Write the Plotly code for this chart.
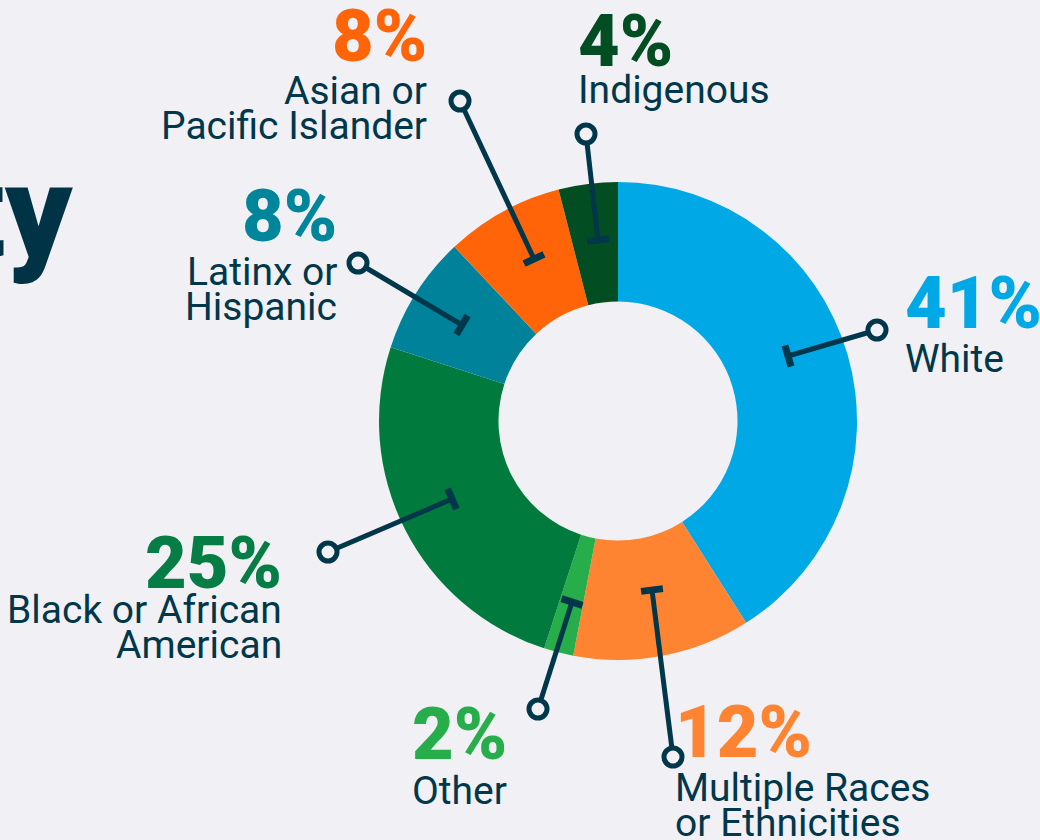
import math
import plotly.graph_objects as go

# ---- data ----
categories = ["White", "Multiple Races or Ethnicities", "Other",
              "Black or African American", "Latinx or Hispanic",
              "Asian or Pacific Islander", "Indigenous"]
values = [41, 12, 2, 25, 8, 8, 4]
pct_labels = ["41%", "12%", "2%", "25%", "8%", "8%", "4%"]
label_lines = [["White"], ["Multiple Races", "or Ethnicities"], ["Other"],
               ["Black or African", "American"], ["Latinx or", "Hispanic"],
               ["Asian or", "Pacific Islander"], ["Indigenous"]]
colors = ["#00A9E5", "#FF8432", "#27AE4A", "#007A3D", "#00839A", "#FF6508", "#034D23"]
pct_colors = ["#00A9E5", "#FF8432", "#27AE4A", "#067D45", "#00869B", "#FF6508", "#034D23"]

W, H = 1040, 840
BG = "#F1F0F5"
DARK = "#00374A"
FONT = "Roboto"


def px(x):
    return x / W


def py(y):
    return 1 - y / H


# pie geometry (pixels)
cx, cy, R = 618, 421, 239

fig = go.Figure(go.Pie(
    labels=categories, values=values, sort=False, direction="clockwise",
    rotation=0, hole=0.5, textinfo="none", hoverinfo="label+percent",
    marker=dict(colors=colors, line=dict(width=0)),
    domain=dict(x=[px(cx - R), px(cx + R)], y=[py(cy + R), py(cy - R)]),
    showlegend=False,
))

# text placement: (anchor, x, pct baseline, [label baselines])
placement = [
    ("left", 903, 328, [372]),
    ("left", 673, 757, [801, 836]),
    ("left", 410, 759, [804]),
    ("right", 284, 588, [623, 658]),
    ("right", 339, 241, [285, 320]),
    ("right", 429, 61, [104, 139]),
    ("left", 576, 66, [103]),
]
PFS, LFS = 72, 39
annotations = []
for i, (anc, x, pb, lbs) in enumerate(placement):
    annotations.append(dict(
        text=pct_labels[i], x=px(x), y=py(pb - 0.342 * PFS), xref="paper", yref="paper",
        xanchor=anc, yanchor="middle", showarrow=False,
        font=dict(family=FONT, size=PFS, color=pct_colors[i], weight=900)))
    for line, b in zip(label_lines[i], lbs):
        annotations.append(dict(
            text=line, x=px(x), y=py(b - 0.342 * LFS), xref="paper", yref="paper",
            xanchor=anc, yanchor="middle", showarrow=False,
            font=dict(family=FONT, size=LFS, color=DARK)))

# cropped title at left edge
TFS = 130
annotations.append(dict(
    text="Ethnicity", x=px(75), y=py(256 - 0.342 * TFS), xref="paper", yref="paper",
    xanchor="right", yanchor="middle", showarrow=False,
    font=dict(family=FONT, size=TFS, color="#003345", weight=900)))

# leader pins: (circle centre, T centre) in pixels
leaders = [
    ((877, 330), (788, 356)),
    ((673, 757), (652, 590)),
    ((538, 709), (572, 602)),
    ((328, 552), (452, 499)),
    ((358, 263), (462, 325)),
    ((460, 101), (534, 259)),
    ((586, 134), (598, 240)),
]
shapes = []
for (c, t) in leaders:
    dx, dy = t[0] - c[0], t[1] - c[1]
    L = math.hypot(dx, dy)
    ux, uy = dx / L, dy / L
    nx, ny = -uy, ux
    shapes.append(dict(type="line", xref="paper", yref="paper",
                       x0=px(c[0]), y0=py(c[1]), x1=px(t[0]), y1=py(t[1]),
                       line=dict(color=DARK, width=5)))
    hb = 11
    shapes.append(dict(type="line", xref="paper", yref="paper",
                       x0=px(t[0] - nx * hb), y0=py(t[1] - ny * hb),
                       x1=px(t[0] + nx * hb), y1=py(t[1] + ny * hb),
                       line=dict(color=DARK, width=7)))
    r = 9
    shapes.append(dict(type="circle", xref="paper", yref="paper",
                       x0=px(c[0] - r), x1=px(c[0] + r), y0=py(c[1] + r), y1=py(c[1] - r),
                       fillcolor=BG, line=dict(color=DARK, width=5)))

fig.update_layout(
    width=W, height=H, autosize=False,
    margin=dict(l=0, r=0, t=0, b=0),
    paper_bgcolor=BG, plot_bgcolor=BG,
    annotations=annotations, shapes=shapes,
    font=dict(family=FONT),
)

fig.write_html(
    "out.html",
    config={"displayModeBar": False},
    post_script="document.body.style.margin='0';document.body.style.padding='0';"
                "document.body.style.overflow='hidden';"
                "document.body.style.background='" + BG + "';",
)
